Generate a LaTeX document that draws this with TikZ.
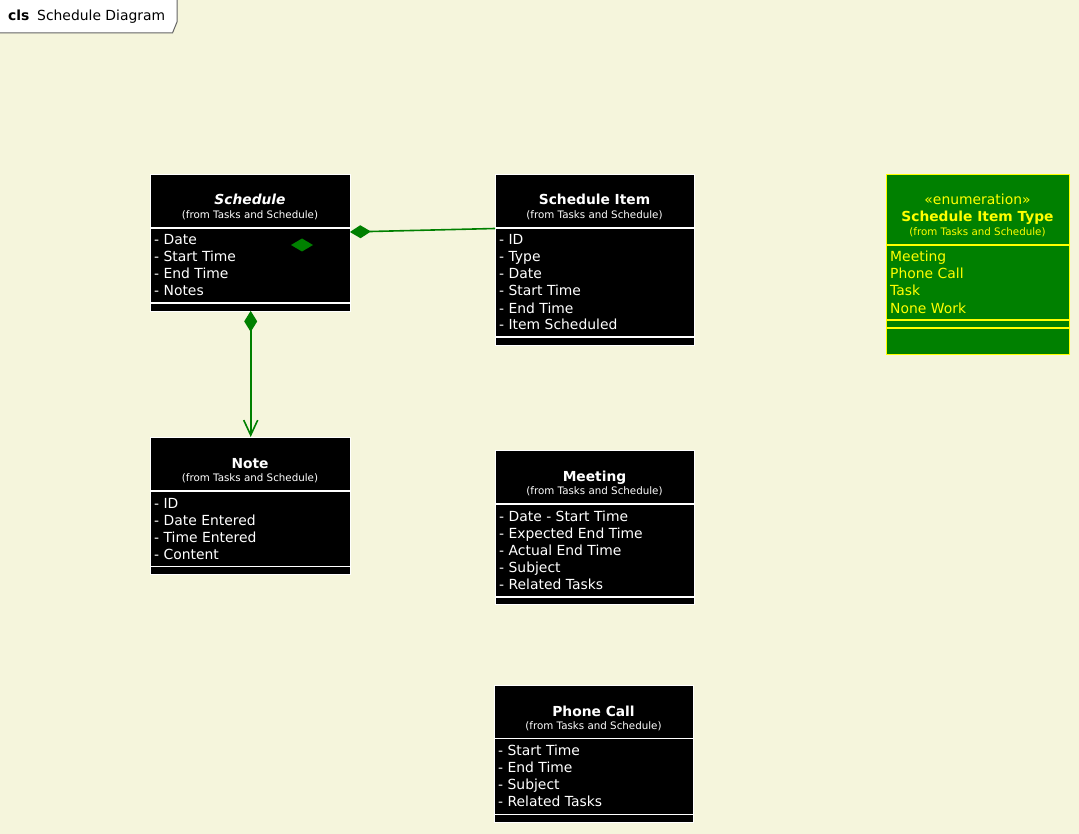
\documentclass[tikz,border=0pt]{standalone}
\usepackage{fontspec}
\setmainfont{DejaVu Sans}
\usetikzlibrary{arrows.meta,calc}
\definecolor{paper}{RGB}{245,245,220}
\definecolor{umlgreen}{RGB}{0,128,0}
\definecolor{enumyellow}{RGB}{255,255,0}
\definecolor{tabedge}{RGB}{100,100,100}
\begin{document}
\begin{tikzpicture}[x=1pt,y=-1pt,
  classbox/.style={draw=white, fill=black, line width=1.4pt, inner sep=0pt, anchor=north west},
  enumbox/.style={draw=enumyellow, fill=umlgreen, line width=1.4pt, inner sep=0pt, anchor=north west},
  sepline/.style={draw=white, line width=1.6pt},
  enumsep/.style={draw=enumyellow, line width=1.6pt},
  clsname/.style={font=\fontsize{13.8}{16}\selectfont\bfseries, text=white, inner sep=0pt, anchor=base},
  clsfrom/.style={font=\fontsize{10.3}{12}\selectfont, text=white, inner sep=0pt, anchor=base},
  attr/.style={font=\fontsize{13.9}{17}\selectfont, text=white, inner sep=0pt, anchor=base west},
  tabtext/.style={font=\fontsize{13.9}{16}\selectfont, text=black, inner sep=0pt, anchor=base west},
  assoc/.style={draw=umlgreen, line width=1.6pt}
]
% page
\fill[paper] (0,0) rectangle (1079,834);
\useasboundingbox (0,0) rectangle (1079,834);

% diagram frame tab
\filldraw[fill=white, draw=tabedge, line width=1pt] (-1,-1) -- (177,-1) -- (177,22) -- (172.5,33) -- (-1,33) -- cycle;
\node[tabtext] (tabkw) at (8,21) {\bfseries cls};
\node[tabtext] (tabtitle) at (37,21) {Schedule Diagram};

% ---- Schedule
\node[classbox, minimum width=200pt, minimum height=137pt] (schedule) at (150,174) {};
\draw[sepline] (schedule.west |- 0,228) -- (schedule.east |- 0,228);
\draw[sepline] (schedule.west |- 0,303) -- (schedule.east |- 0,303);
\node[clsname] (schedule-name) at (250,205) {\itshape Schedule};
\node[clsfrom] (schedule-from) at (250,218.5) {(from Tasks and Schedule)};
\foreach \t [count=\i] in {Date, Start Time, End Time, Notes}
  \node[attr] (schedule-a\i) at (154,228+17*\i) {- \t};
\fill[umlgreen] (291,245) -- (302,238.5) -- (313,245) -- (302,251.5) -- cycle;

% ---- Schedule Item
\node[classbox, minimum width=199pt, minimum height=171pt] (item) at (495,174) {};
\draw[sepline] (item.west |- 0,228) -- (item.east |- 0,228);
\draw[sepline] (item.west |- 0,337) -- (item.east |- 0,337);
\node[clsname] (item-name) at (594.5,205) {Schedule Item};
\node[clsfrom] (item-from) at (594.5,218.5) {(from Tasks and Schedule)};
\foreach \t [count=\i] in {ID, Type, Date, Start Time, End Time, Item Scheduled}
  \node[attr] (item-a\i) at (499,228+17*\i) {- \t};

% ---- Schedule Item Type (enumeration)
\node[enumbox, minimum width=183pt, minimum height=180pt] (itemtype) at (886,174) {};
\draw[enumsep] (itemtype.west |- 0,245) -- (itemtype.east |- 0,245);
\draw[enumsep] (itemtype.west |- 0,320) -- (itemtype.east |- 0,320);
\draw[enumsep] (itemtype.west |- 0,328) -- (itemtype.east |- 0,328);
\node[clsfrom, font=\fontsize{13.9}{16}\selectfont, text=enumyellow] (itemtype-st) at (977.5,205) {«enumeration»};
\node[clsname, text=enumyellow] (itemtype-name) at (977.5,222) {Schedule Item Type};
\node[clsfrom, text=enumyellow] (itemtype-from) at (977.5,235.5) {(from Tasks and Schedule)};
\foreach \t [count=\i] in {Meeting, Phone Call, Task, None Work}
  \node[attr, text=enumyellow] (itemtype-a\i) at (890,245+17*\i) {\t};

% ---- Note
\node[classbox, minimum width=200pt, minimum height=137pt] (note) at (150,437) {};
\draw[sepline] (note.west |- 0,491) -- (note.east |- 0,491);
\draw[sepline] (note.west |- 0,566.5) -- (note.east |- 0,566.5);
\node[clsname] (note-name) at (250,468) {Note};
\node[clsfrom] (note-from) at (250,481.5) {(from Tasks and Schedule)};
\foreach \t [count=\i] in {ID, Date Entered, Time Entered, Content}
  \node[attr] (note-a\i) at (154,491+17*\i) {- \t};

% ---- Meeting
\node[classbox, minimum width=199pt, minimum height=154pt] (meeting) at (495,450) {};
\draw[sepline] (meeting.west |- 0,504) -- (meeting.east |- 0,504);
\draw[sepline] (meeting.west |- 0,597) -- (meeting.east |- 0,597);
\node[clsname] (meeting-name) at (594.5,481) {Meeting};
\node[clsfrom] (meeting-from) at (594.5,494.5) {(from Tasks and Schedule)};
\foreach \t [count=\i] in {Date - Start Time, Expected End Time, Actual End Time, Subject, Related Tasks}
  \node[attr] (meeting-a\i) at (499,504+17*\i) {- \t};

% ---- Phone Call
\node[classbox, minimum width=199pt, minimum height=137pt] (phone) at (494,685) {};
\draw[sepline] (phone.west |- 0,738.5) -- (phone.east |- 0,738.5);
\draw[sepline] (phone.west |- 0,814.5) -- (phone.east |- 0,814.5);
\node[clsname] (phone-name) at (593.5,716) {Phone Call};
\node[clsfrom] (phone-from) at (593.5,729.5) {(from Tasks and Schedule)};
\foreach \t [count=\i] in {Start Time, End Time, Subject, Related Tasks}
  \node[attr] (phone-a\i) at (498,738.5+17*\i) {- \t};

% ---- relationships
\draw[assoc, {Diamond[length=21pt,width=13pt,fill=umlgreen]}-]
  ($(schedule.north east)+(-1.5,58)$) -- ($(item.north west)+(0,54.5)$);
\draw[assoc, {Diamond[length=21pt,width=13pt,fill=umlgreen]}-{Straight Barb[length=15pt,width=14pt]}]
  ($(schedule.south)+(0,-1.5)$) -- (note.north);
\end{tikzpicture}
\end{document}
